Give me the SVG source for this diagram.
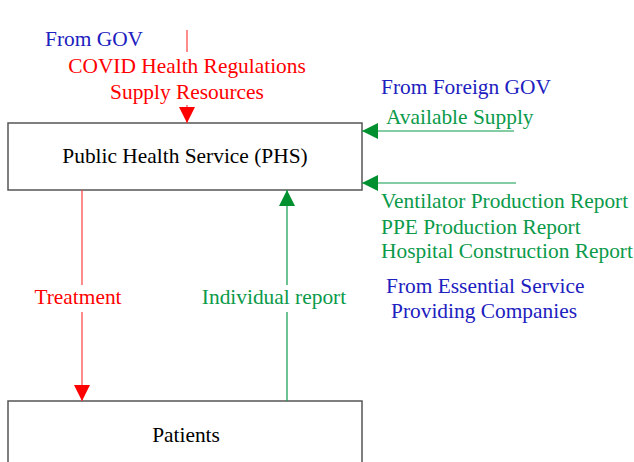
<svg xmlns="http://www.w3.org/2000/svg" width="634" height="462" viewBox="0 0 634 462">
<style>
text{font-family:"Liberation Serif","Times New Roman",serif;font-size:21.4px}
.blue{fill:#2020C0}
.red{fill:#FF0000}
.green{fill:#0A9A4A}
.black{fill:#000}
.box{fill:#fff;stroke:#555;stroke-width:1.5}
.lr{stroke:#FF4040;stroke-width:1.2;fill:none}
.lg{stroke:#0A9A4A;stroke-width:1.2;fill:none}
</style>
<defs>
<marker id="ar" markerUnits="userSpaceOnUse" markerWidth="16" markerHeight="18" refX="16" refY="8" orient="auto" viewBox="0 0 16 16">
<path d="M0,0 L16,8 L0,16 Z" fill="#FF0000"/>
</marker>
<marker id="ag" markerUnits="userSpaceOnUse" markerWidth="16" markerHeight="16" refX="16" refY="8" orient="auto" viewBox="0 0 16 16">
<path d="M0,0 L16,8 L0,16 Z" fill="#009030"/>
</marker>
</defs>
<rect width="634" height="462" fill="#fff"/>
<g id="phs">
<rect class="box" x="8" y="123" width="354" height="67"/>
<text class="black" x="185" y="163" text-anchor="middle">Public Health Service (PHS)</text>
</g>
<g id="patients">
<rect class="box" x="8" y="401" width="354" height="70"/>
<text class="black" x="186" y="442" text-anchor="middle">Patients</text>
</g>
<g id="connectors">
<line class="lr" x1="187" y1="30" x2="187" y2="52"/>
<line class="lr" x1="187" y1="105" x2="187" y2="123" marker-end="url(#ar)"/>
<line class="lr" x1="82" y1="190" x2="82" y2="285"/>
<line class="lr" x1="82" y1="312" x2="82" y2="401" marker-end="url(#ar)"/>
<line class="lg" x1="287" y1="401" x2="287" y2="312"/>
<line class="lg" x1="287" y1="285" x2="287" y2="190" marker-end="url(#ag)"/>
<line class="lg" x1="514" y1="131" x2="362" y2="131" marker-end="url(#ag)"/>
<line class="lg" x1="516" y1="183" x2="362" y2="183" marker-end="url(#ag)"/>
</g>
<g id="labels">
<text class="blue" x="45" y="46">From GOV</text>
<text class="red" x="187" y="73" text-anchor="middle">COVID Health Regulations</text>
<text class="red" x="187" y="99" text-anchor="middle">Supply Resources</text>
<text class="blue" x="381" y="94">From Foreign GOV</text>
<text class="green" x="386" y="124">Available Supply</text>
<text class="green" x="381" y="208">Ventilator Production Report</text>
<text class="green" x="381" y="234">PPE Production Report</text>
<text class="green" x="381" y="258">Hospital Construction Report</text>
<text class="blue" x="386" y="293">From Essential Service</text>
<text class="blue" x="391" y="318">Providing Companies</text>
<text class="red" x="78" y="304" text-anchor="middle">Treatment</text>
<text class="green" x="274" y="304" text-anchor="middle">Individual report</text>
</g>
</svg>
